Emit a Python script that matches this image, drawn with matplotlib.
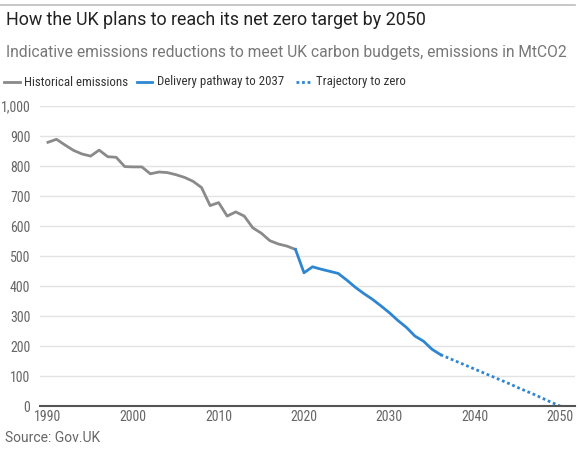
import matplotlib
matplotlib.use("Agg")
import matplotlib.pyplot as plt
from matplotlib.lines import Line2D

COND = "Roboto Condensed"
MAIN = "Roboto"

hist_years = list(range(1990, 2020))
hist_values = [879, 889, 870, 852, 840, 833, 853, 831, 829, 798,
               797, 797, 774, 780, 778, 771, 762, 749, 728, 668,
               678, 633, 647, 633, 594, 576, 551, 540, 533, 522]

path_years = list(range(2019, 2037))
path_values = [522, 444, 464, 456, 449, 442, 420, 396, 375, 356,
               334, 311, 285, 262, 233, 216, 189, 171]

traj_years = list(range(2036, 2051))
traj_values = [171, 159, 147, 135, 123, 111, 99, 87, 75, 62,
               50, 38, 25, 12, 0]

y_ticks = [0, 100, 200, 300, 400, 500, 600, 700, 800, 900, 1000]
x_ticks = [1990, 2000, 2010, 2020, 2030, 2040, 2050]

GRAY = "#8a8a8a"
BLUE = "#2e86d3"
DOT = (0, (1, 1))

fig = plt.figure(figsize=(5.8, 4.5), dpi=100)
ax = fig.add_axes([40/580, 44/450, 535/580, 300/450])

ax.plot(hist_years, hist_values, color=GRAY, lw=2, solid_joinstyle="round")
ax.plot(path_years, path_values, color=BLUE, lw=2, solid_joinstyle="round")
ax.plot(traj_years, traj_values, color=BLUE, lw=2, linestyle=DOT)

ax.set_xlim(1989.07, 2051.75)
ax.set_ylim(0, 1000)
ax.set_yticks(y_ticks)
ax.set_yticklabels([f"{v:,}" for v in y_ticks])
ax.set_xticks(x_ticks)
ax.set_xticklabels([str(v) for v in x_ticks])
ax.grid(axis="y", color="#e3e3e3", lw=1)
ax.set_axisbelow(True)
for s in ["top", "right", "left"]:
    ax.spines[s].set_visible(False)
ax.spines["bottom"].set_color("#555555")
ax.spines["bottom"].set_linewidth(1.5)
ax.tick_params(axis="both", length=0, labelcolor="#666666", labelsize=10)
ax.tick_params(axis="y", pad=7)
ax.tick_params(axis="x", pad=3)
for lab in ax.get_xticklabels() + ax.get_yticklabels():
    lab.set_fontfamily(COND)

# top rule
fig.add_artist(Line2D([0, 575/580], [1 - 5/450, 1 - 5/450], color="#bdbdbd", lw=1.2))

fig.text(6/580, 1 - 20/450, "How the UK plans to reach its net zero target by 2050",
         fontsize=12.9, color="#222222", va="center", ha="left", family=MAIN)
fig.text(6/580, 1 - 53/450,
         "Indicative emissions reductions to meet UK carbon budgets, emissions in MtCO2",
         fontsize=11.25, color="#777777", va="center", ha="left", family=MAIN)

ly = 1 - 82/450
legend_items = [
    (4, 20, 24, GRAY, "-", "Historical emissions"),
    (137, 152, 157, BLUE, "-", "Delivery pathway to 2037"),
    (296, 312, 316, BLUE, DOT, "Trajectory to zero"),
]
for x0, x1, xt, c, ls, label in legend_items:
    fig.add_artist(Line2D([x0/580, x1/580], [ly, ly], color=c, lw=2, linestyle=ls))
    fig.text(xt/580, ly, label, fontsize=9.3, color="#333333", va="center",
             ha="left", family=COND)

fig.text(5/580, 1 - 438/450, "Source: Gov.UK", fontsize=10, color="#666666",
         va="center", ha="left", family=MAIN)

fig.savefig("out.png", dpi=100)
